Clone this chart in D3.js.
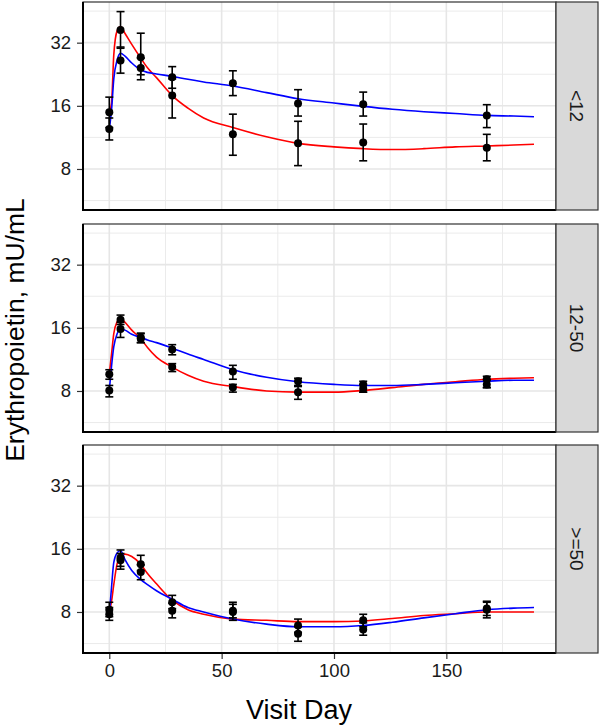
<!DOCTYPE html>
<html><head><meta charset="utf-8">
<script src="https://cdn.jsdelivr.net/npm/d3@7"></script>
<style>body{margin:0;background:#fff}svg{display:block}text{font-family:Arial,"Liberation Sans",sans-serif}</style>
</head><body><div id="chart"></div>
<script>
const panels = ["<12", "12-50", ">=50"];
const visitDays = [0, 5, 14, 28, 55, 84, 113, 168];
const xTicks = [0, 50, 100, 150];
const yTicks = [8, 16, 32];

// observed group A (mean, lower, upper)
const lt12_A = [14.9, 36.8, 27.3, 21.9, 20.5, 16.4, 16.3, 14.4];
const lt12_Alo = [12.6, 30.1, 22.5, 19.4, 17.9, 14.3, 14.3, 12.6];
const lt12_Ahi = [17.6, 45.0, 35.5, 24.6, 23.5, 19.1, 18.6, 16.2];
const lt12_B = [12.4, 26.3, 24.2, 17.9, 11.7, 10.6, 10.7, 10.1];
const lt12_Blo = [11.0, 22.9, 21.3, 14.0, 9.3, 8.3, 8.75, 8.75];
const lt12_Bhi = [14.0, 30.5, 27.0, 21.5, 14.6, 13.5, 13.1, 11.7];

const mid_A = [9.6, 17.5, 14.4, 12.6, 9.9, 8.9, 8.6, 9.1];
const mid_Alo = [9.1, 16.6, 13.6, 11.9, 9.1, 8.4, 7.9, 8.3];
const mid_Ahi = [10.1, 18.4, 15.1, 13.3, 10.6, 9.2, 8.9, 9.4];
const mid_B = [8.05, 15.8, 14.2, 10.4, 8.3, 7.9, 8.2, 8.6];
const mid_Blo = [7.5, 14.4, 13.6, 9.9, 7.9, 7.3, 7.9, 8.3];
const mid_Bhi = [8.5, 17.0, 15.0, 10.8, 8.6, 8.5, 8.6, 9.0];

const ge50_A = [8.2, 14.5, 13.5, 8.9, 8.1, 6.9, 7.3, 8.3];
const ge50_Alo = [7.6, 13.2, 12.6, 8.3, 7.5, 6.4, 6.8, 7.7];
const ge50_Ahi = [8.9, 15.8, 14.9, 9.6, 8.9, 7.4, 7.8, 9.0];
const ge50_B = [7.8, 14.1, 12.4, 8.1, 8.0, 6.3, 6.6, 8.2];
const ge50_Blo = [7.3, 12.8, 11.4, 7.5, 7.3, 5.8, 6.2, 7.5];
const ge50_Bhi = [8.4, 15.2, 13.4, 8.8, 8.7, 6.8, 7.1, 8.9];

// model curves
const curveDays = [0, 1, 2, 3.5, 5, 7, 10, 14, 17, 21, 28, 35, 42, 55, 70, 84, 100, 113, 126, 140, 154, 168, 180, 189];
const lt12_red = [14.8, 16.5, 28, 36.5, 38.2, 35.4, 31.4, 27.0, 24.3, 21.8, 17.9, 15.6, 14.0, 12.6, 11.4, 10.6, 10.2, 10.0, 9.9, 10.0, 10.2, 10.3, 10.4, 10.5];
const lt12_blue = [12.4, 15.3, 21.5, 26.5, 28.5, 27.6, 25.6, 23.7, 23.1, 22.7, 22.1, 21.4, 20.8, 19.9, 18.5, 17.3, 16.5, 15.9, 15.4, 15.0, 14.7, 14.4, 14.3, 14.2];
const mid_red = [9.6, 12, 15, 17.1, 17.8, 17.0, 15.6, 14.2, 12.9, 11.6, 10.4, 9.5, 8.9, 8.4, 8.0, 7.9, 7.9, 8.05, 8.3, 8.6, 8.85, 9.1, 9.2, 9.25];
const mid_blue = [8.05, 10.5, 13, 15, 15.8, 15.6, 14.9, 14.4, 14.0, 13.6, 12.8, 12.0, 11.3, 10.1, 9.3, 8.85, 8.6, 8.5, 8.5, 8.6, 8.75, 8.9, 9.0, 9.0];
const ge50_red = [8.0, 9.0, 10.8, 13.6, 14.7, 15.1, 14.7, 13.5, 12.2, 10.9, 9.1, 8.2, 7.8, 7.4, 7.3, 7.2, 7.2, 7.25, 7.45, 7.7, 7.85, 8.0, 8.0, 8.0];
const ge50_blue = [7.8, 10.5, 13.8, 15.3, 15.7, 14.2, 12.6, 11.4, 10.8, 10.1, 9.2, 8.4, 8.0, 7.4, 7.0, 6.8, 6.8, 6.9, 7.15, 7.5, 7.85, 8.2, 8.35, 8.4];

const obs = [
  [[lt12_A, lt12_Alo, lt12_Ahi], [lt12_B, lt12_Blo, lt12_Bhi]],
  [[mid_A, mid_Alo, mid_Ahi], [mid_B, mid_Blo, mid_Bhi]],
  [[ge50_A, ge50_Alo, ge50_Ahi], [ge50_B, ge50_Blo, ge50_Bhi]]
];
const curves = [[lt12_red, lt12_blue], [mid_red, mid_blue], [ge50_red, ge50_blue]];
const curveColors = ["#FF0000", "#0000FF"];

const W = 600, H = 727;
const left = 83, right = 556, stripW = 42;
const panelTop = [2, 224, 445], panelH = 208;

const svg = d3.select("#chart").append("svg").attr("width", W).attr("height", H);
const x = d3.scaleLinear().domain([-11.7, 198.8]).range([left, right]);
const yDomain = [5.1, 50];
const xMinor = [25, 75, 125, 175];
const yMinor = [Math.sqrt(8*4), Math.sqrt(8*16), Math.sqrt(16*32), Math.sqrt(32*64)];

panels.forEach((lab, p) => {
  const top = panelTop[p];
  const y = d3.scaleLog().base(2).domain(yDomain).range([top + panelH, top]);
  const g = svg.append("g");
  g.append("rect").attr("x", left).attr("y", top).attr("width", right-left).attr("height", panelH).attr("fill", "#fff");
  // grid
  g.selectAll(".ymin").data(yMinor.filter(v => v > yDomain[0] && v < yDomain[1])).enter().append("line")
    .attr("x1", left).attr("x2", right).attr("y1", d => y(d)).attr("y2", d => y(d)).attr("stroke", "#EBEBEB").attr("stroke-width", 1);
  g.selectAll(".xmin").data(xMinor).enter().append("line")
    .attr("y1", top).attr("y2", top+panelH).attr("x1", d => x(d)).attr("x2", d => x(d)).attr("stroke", "#EBEBEB").attr("stroke-width", 1);
  g.selectAll(".ymaj").data(yTicks).enter().append("line")
    .attr("x1", left).attr("x2", right).attr("y1", d => y(d)).attr("y2", d => y(d)).attr("stroke", "#E6E6E6").attr("stroke-width", 1.6);
  g.selectAll(".xmaj").data(xTicks).enter().append("line")
    .attr("y1", top).attr("y2", top+panelH).attr("x1", d => x(d)).attr("x2", d => x(d)).attr("stroke", "#E6E6E6").attr("stroke-width", 1.6);

  // curves
  curves[p].forEach((vals, k) => {
    const line = d3.line().x((d, i) => x(curveDays[i])).y(d => y(d)).curve(d3.curveMonotoneX);
    g.append("path").attr("d", line(vals)).attr("fill", "none").attr("stroke", curveColors[k]).attr("stroke-width", 1.6);
  });

  // observations
  obs[p].forEach(([m, lo, hi]) => {
    visitDays.forEach((d, i) => {
      const cx = x(d);
      g.append("line").attr("x1", cx).attr("x2", cx).attr("y1", y(lo[i])).attr("y2", y(hi[i])).attr("stroke", "#000").attr("stroke-width", 1.6);
      [lo[i], hi[i]].forEach(v => g.append("line").attr("x1", cx-4).attr("x2", cx+4).attr("y1", y(v)).attr("y2", y(v)).attr("stroke", "#000").attr("stroke-width", 1.6));
      g.append("circle").attr("cx", cx).attr("cy", y(m[i])).attr("r", 4).attr("fill", "#000");
    });
  });

  // border
  g.append("rect").attr("x", left).attr("y", top).attr("width", right-left).attr("height", panelH).attr("fill", "none").attr("stroke", "#333").attr("stroke-width", 1.2);
  // axis lines (left & bottom)
  g.append("line").attr("x1", left).attr("x2", left).attr("y1", top).attr("y2", top+panelH+1).attr("stroke", "#000").attr("stroke-width", 2);
  g.append("line").attr("x1", left-1).attr("x2", right).attr("y1", top+panelH).attr("y2", top+panelH).attr("stroke", "#000").attr("stroke-width", 2);

  // y axis
  const ya = g.append("g").attr("transform", `translate(${left-1},0)`)
    .call(d3.axisLeft(y).tickValues(yTicks).tickFormat(d3.format("d")).tickSize(5).tickPadding(6));
  ya.select(".domain").remove();
  ya.selectAll(".tick line").attr("stroke", "#333").attr("stroke-width", 1.2);
  ya.selectAll(".tick text").attr("font-size", 18.5).attr("fill", "#1a1a1a").style("font-family", "Arial, 'Liberation Sans', sans-serif");

  // strip
  g.append("rect").attr("x", right).attr("y", top).attr("width", stripW).attr("height", panelH).attr("fill", "#D9D9D9").attr("stroke", "#333").attr("stroke-width", 1.2);
  g.append("text").attr("transform", `translate(${right + stripW/2},${top + panelH/2}) rotate(90)`)
    .attr("text-anchor", "middle").attr("dy", "0.35em").attr("font-size", 19).attr("fill", "#1a1a1a").text(lab);

  if (p === panels.length - 1) {
    const xa = g.append("g").attr("transform", `translate(0,${top+panelH+1})`)
      .call(d3.axisBottom(x).tickValues(xTicks).tickFormat(d3.format("d")).tickSize(5).tickPadding(5));
    xa.select(".domain").remove();
    xa.selectAll(".tick line").attr("stroke", "#333").attr("stroke-width", 1.2);
    xa.selectAll(".tick text").attr("font-size", 18.5).attr("fill", "#1a1a1a").style("font-family", "Arial, 'Liberation Sans', sans-serif");
  }
});

svg.append("text").attr("x", 299).attr("y", 719).attr("text-anchor", "middle").attr("font-size", 27).attr("fill", "#000").text("Visit Day");
svg.append("text").attr("transform", "translate(24,330) rotate(-90)").attr("text-anchor", "middle").attr("font-size", 26.5).attr("fill", "#000").text("Erythropoietin, mU/mL");
</script></body></html>
